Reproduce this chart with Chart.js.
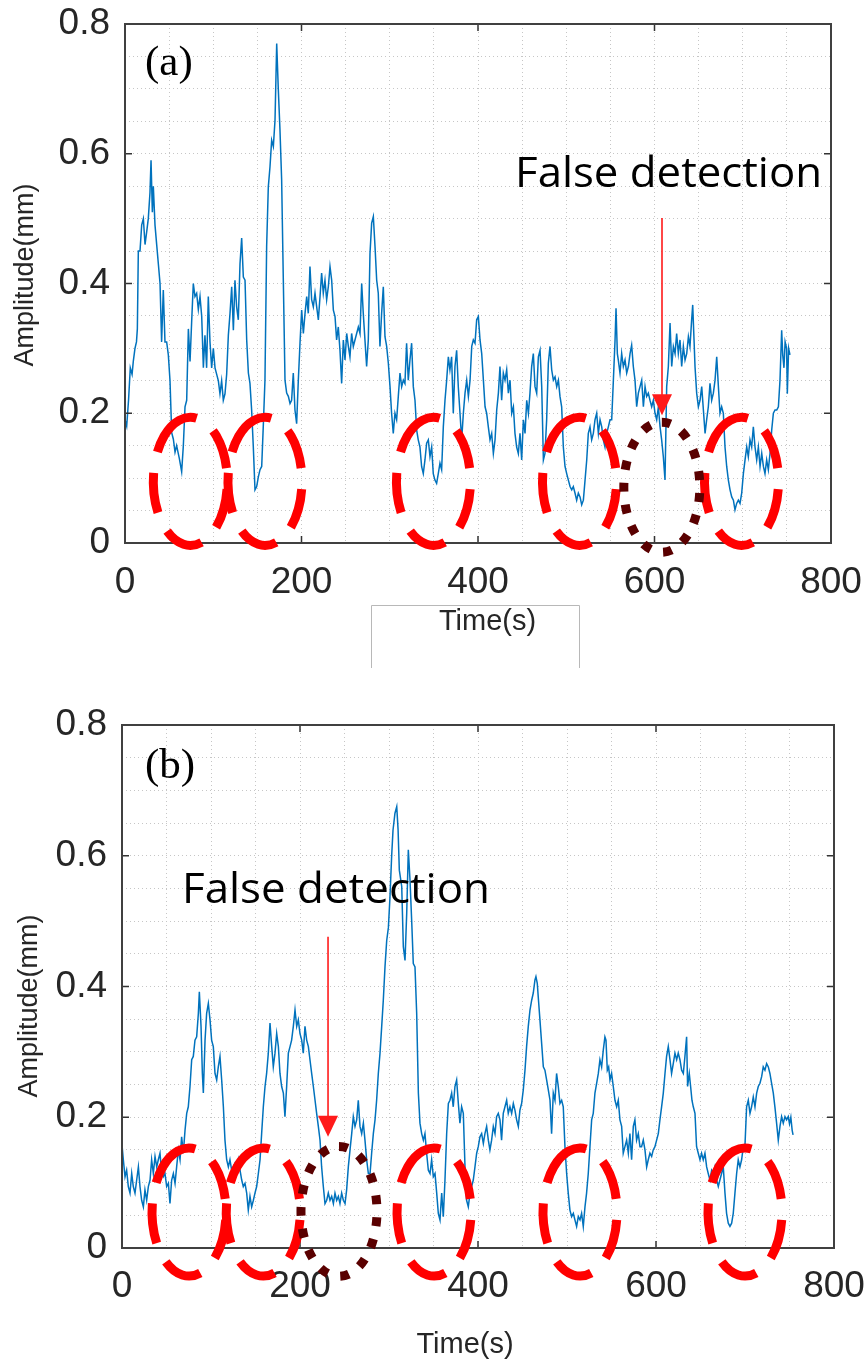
<!DOCTYPE html>
<html>
<head>
<meta charset="utf-8">
<title>Amplitude traces</title>
<script src="https://cdn.jsdelivr.net/npm/chart.js@4.4.1/dist/chart.umd.min.js"></script>
<style>
  html, body { margin: 0; padding: 0; background: #fff; }
  #wrap { position: relative; width: 865px; height: 1363px; }
  #wrap canvas { position: absolute; left: 0; }
</style>
</head>
<body>
<div id="wrap">
  <canvas id="chartA" width="865" height="680" style="top:0"></canvas>
  <canvas id="chartB" width="865" height="683" style="top:680px"></canvas>
</div>
<script>
/* two amplitude traces, (a) and (b), with the marked troughs */

const xMajor = [0, 200, 400, 600, 800];
const xTickLabels = ['0', '200', '400', '600', '800'];
const yMajor = [0, 0.2, 0.4, 0.6, 0.8];
const yTickLabels = ['0', '0.2', '0.4', '0.6', '0.8'];
const xMinorStep = 50;
const yMinorStep = 0.05;

// panel (a): time (s) and amplitude (mm)
const timeA = [
  0, 1.9, 4, 6, 8, 9.4, 11.3, 13, 14, 15.1,
  17, 18.9, 20.8, 22.7, 24.6, 26.4, 28.3, 29.5, 31, 32.1,
  34, 35.9, 37.8, 39.7, 41.5, 43.4, 45.3, 47.2, 49.1, 51,
  52.9, 54.8, 56.7, 58.5, 61.6, 64.2, 66.1, 68, 69.9, 71.8,
  73.7, 75.5, 77.4, 79.3, 81.2, 83.1, 85, 86.9, 88.8, 90.6,
  92.5, 94.4, 96.3, 98.2, 100.1, 102, 103.9, 105.8, 107.6, 109.5,
  111.4, 113.3, 115.2, 117.1, 119, 120.9, 122.8, 124.6, 126.5, 128.4,
  130.3, 132.2, 134.1, 136, 137.9, 139.8, 141.6, 143.5, 145.4, 147.3,
  149.2, 151.1, 153, 154.9, 156.8, 158.6, 160.5, 162.4, 164.3, 166.2,
  168.1, 170, 171.9, 173.7, 175.6, 177.5, 179.4, 181.3, 183.2, 185.1,
  187, 188.8, 190.7, 192.6, 194.5, 196.4, 198.3, 200.2, 202.1, 204,
  205.9, 207.7, 209.6, 211.5, 213.4, 215.3, 217.2, 219.1, 221, 222.8,
  224.7, 226.6, 228.5, 230.4, 232.3, 234.2, 236.1, 238, 239.8, 241.7,
  243.6, 245.5, 247.4, 249.3, 251.2, 253.1, 254.9, 256.8, 258.7, 260.6,
  262.5, 264.4, 266.3, 268.2, 270, 271.9, 273.8, 275.7, 277.6, 279.5,
  281.4, 283.3, 285.2, 287, 288.9, 290.8, 292.7, 294.6, 296.5, 298.4,
  300.3, 302.1, 304, 305.9, 307.8, 309.7, 311.6, 313.5, 315.4, 317.2,
  319.1, 321, 322.9, 324.8, 326.7, 328.6, 330.5, 332.3, 334.2, 336.1,
  338, 339.9, 341.8, 343.7, 345.6, 347.5, 349.3, 351.2, 353.1, 355,
  356.9, 358.8, 360.7, 362.6, 364.5, 366.4, 368.2, 370.1, 372, 373.9,
  375.8, 377.7, 379.6, 381.5, 383.4, 385.3, 387.2, 389.1, 391, 392.9,
  394.7, 396.6, 398.5, 400.4, 402.3, 404.2, 406.1, 408, 409.8, 411.7,
  413.6, 415.5, 417.4, 419.3, 421.2, 423.1, 424.9, 426.8, 428.7, 430.6,
  432.5, 434.4, 436.3, 438.2, 440.1, 441.9, 443.8, 445.7, 447.6, 449.5,
  451.4, 453.3, 455.2, 457.1, 458.9, 460.8, 462.7, 464.6, 466.5, 468.4,
  470.3, 472.2, 474.1, 475.9, 477.8, 479.7, 481.6, 483.5, 485.4, 487.3,
  489.2, 491.1, 492.9, 494.8, 496.7, 498.6, 500.5, 502.4, 504.3, 506.2,
  508, 509.9, 511.8, 513.7, 515.6, 517.5, 519.4, 521.3, 523.2, 525,
  526.9, 528.8, 530.7, 532.6, 534.5, 536.4, 538.3, 540.2, 542, 543.9,
  545.8, 547.7, 549.6, 551.5, 553.4, 555.3, 556.4, 557.9, 559, 560.9,
  562.8, 564.7, 566.6, 568.5, 570.4, 572.3, 574.1, 576, 577.9, 579.8,
  581.7, 583.6, 585.5, 587.4, 589.3, 591.1, 593, 594.9, 596.8, 598.7,
  600.6, 602.5, 604.4, 606.3, 608.1, 610, 611.9, 613.8, 615.7, 617.6,
  619.5, 621.4, 623.3, 625.1, 627, 628.9, 630.8, 632.7, 634.6, 636.5,
  638.4, 640.2, 642.1, 643.3, 644.8, 645.9, 647.8, 649.7, 651.6, 653.5,
  655.4, 657.3, 659.1, 661, 662.9, 664.8, 666.7, 668.6, 670.5, 672.4,
  674.2, 676.1, 678, 679.9, 681.8, 683.7, 685.6, 687.5, 689.4, 691.2,
  693.1, 695, 696.9, 698.8, 700.7, 702.6, 704.5, 706.3, 708.2, 710.1,
  712, 713.9, 715.8, 717.7, 719.6, 721.5, 723.4, 725.2, 727.1, 729,
  730.9, 732.8, 734.7, 736.6, 738.5, 740.4, 742.2, 744.1, 745.3, 746.7,
  748, 749.7, 750.5, 752, 753.5
];
const ampA = [
  .19, .18, .22, .27, .26, .28, .30, .31, .33, .45,
  .45, .49, .50, .46, .48, .50, .54, .59, .51, .55,
  .49, .46, .43, .40, .31, .39, .31, .31, .29, .25,
  .17, .16, .14, .15, .13, .11, .15, .21, .22, .33,
  .28, .34, .40, .38, .385, .36, .38, .35, .27, .32,
  .27, .38, .31, .27, .30, .27, .26, .25, .23, .25,
  .22, .23, .26, .32, .354, .395, .328, .405, .364, .344,
  .43, .47, .41, .405, .313, .262, .246, .205, .148, .082,
  .087, .102, .113, .118, .184, .251, .457, .549, .58, .621,
  .611, .652, .77, .70, .637, .56, .405, .251, .231, .226,
  .215, .22, .262, .205, .184, .251, .308, .359, .323, .354,
  .38, .354, .426, .375, .364, .385, .364, .344, .38, .416,
  .385, .405, .375, .395, .426, .405, .359, .349, .313, .333,
  .297, .246, .313, .282, .323, .303, .287, .323, .303, .313,
  .323, .333, .323, .40, .354, .313, .272, .313, .446, .493,
  .503, .457, .405, .385, .303, .354, .395, .318, .303, .277,
  .241, .20, .169, .20, .19, .226, .262, .241, .251, .246,
  .308, .251, .282, .308, .241, .22, .174, .159, .148, .118,
  .107, .128, .154, .159, .133, .148, .107, .097, .092, .107,
  .123, .113, .179, .22, .251, .287, .267, .287, .20, .272,
  .297, .24, .20, .159, .20, .231, .251, .226, .251, .303,
  .313, .308, .344, .349, .313, .292, .251, .21, .20, .179,
  .159, .169, .138, .159, .205, .231, .272, .22, .262, .251,
  .267, .231, .251, .20, .21, .169, .148, .138, .169, .128,
  .19, .169, .22, .20, .231, .272, .292, .241, .231, .287,
  .297, .241, .128, .138, .19, .277, .303, .267, .251, .256,
  .241, .251, .226, .21, .148, .118, .107, .097, .087, .082,
  .087, .077, .066, .077, .071, .059, .066, .097, .128, .169,
  .179, .159, .169, .19, .20, .169, .19, .179, .159, .148,
  .169, .179, .19, .19, .251, .313, .362, .292, .282, .262,
  .292, .272, .282, .262, .272, .292, .305, .272, .251, .21,
  .231, .241, .251, .21, .241, .226, .231, .22, .21, .22,
  .20, .19, .21, .179, .159, .133, .097, .241, .272, .339,
  .272, .303, .292, .323, .292, .313, .272, .303, .282, .292,
  .318, .303, .344, .367, .313, .272, .231, .21, .22, .241,
  .205, .169, .19, .21, .246, .22, .231, .251, .287, .241,
  .20, .21, .20, .148, .118, .097, .082, .071, .066, .051,
  .061, .066, .061, .077, .107, .128, .148, .133, .159, .148,
  .179, .148, .128, .148, .118, .138, .118, .107, .128, .113,
  .138, .174, .20, .205, .205, .21, .251, .328, .29, .27,
  .31, .30, .23, .30, .29
];

// panel (b)
const timeB = [
  0, 1.5, 3.4, 5.2, 7.1, 9, 10.9, 12.7, 14.6, 16.5,
  18.4, 20.2, 22.1, 24, 25.8, 27.7, 29.6, 31.5, 33.3, 35.2,
  37.1, 39, 40.8, 42.7, 44.6, 46.4, 48.3, 50.2, 52.1, 53.9,
  55.8, 57.7, 59.6, 61.4, 63.3, 65.2, 67, 68.9, 70.8, 72.7,
  74.5, 76.4, 78.3, 80.1, 82, 83.9, 85.8, 86.9, 88.8, 90.3,
  91.4, 93.3, 95.1, 97, 98.9, 100.7, 102.6, 104.5, 106.4, 108.2,
  110.1, 112, 113.9, 115.7, 117.6, 119.5, 121.3, 123.2, 125.1, 127,
  128.8, 130.7, 132.6, 134.5, 136.3, 138.2, 140.1, 141.9, 143.8, 145.7,
  147.6, 149.4, 151.3, 153.2, 155.1, 156.9, 158.8, 160.7, 162.5, 164.4,
  166.3, 168.2, 170, 171.9, 173.8, 175.7, 177.5, 179.4, 181.3, 183.1,
  185, 186.9, 188.8, 190.6, 192.5, 194.4, 196.3, 198.1, 200, 201.9,
  203.7, 205.6, 207.5, 209.4, 211.2, 213.1, 215, 216.9, 218.7, 220.6,
  222.5, 224.3, 226.2, 228.1, 230, 231.8, 233.7, 235.6, 237.5, 239.3,
  241.2, 243.1, 244.9, 246.8, 248.7, 250.6, 252.4, 254.3, 256.2, 258.1,
  259.9, 261.8, 263.7, 265.5, 267.4, 269.3, 271.2, 273, 274.9, 276.8,
  278.7, 280.5, 282.4, 284.3, 286.1, 288, 289.9, 291.8, 293.6, 295.5,
  297.4, 299.3, 301.1, 303, 304.5, 306.7, 308.7, 310.2, 311.6, 314.3,
  316.1, 318, 319.9, 321.7, 323.6, 325.5, 327.3, 329.2, 331.1, 333,
  334.8, 336.7, 338.6, 340.4, 342.3, 344.2, 346.1, 347.9, 349.8, 351.7,
  353.6, 355.4, 357.3, 359.2, 361, 362.9, 364.8, 366.7, 368.5, 370.4,
  372.2, 374.1, 376, 377.9, 379.7, 381.6, 383.5, 385.4, 387.2, 389.1,
  391, 392.8, 394.7, 396.6, 398.5, 400.3, 402.2, 404.1, 406, 407.8,
  409.7, 411.6, 413.4, 415.3, 417.2, 419.1, 420.9, 422.8, 424.7, 426.5,
  428.4, 430.3, 432.2, 434, 435.9, 437.8, 439.7, 441.5, 443.4, 445.3,
  447.1, 449, 450.9, 452.8, 454.6, 456.5, 458.4, 460.3, 462.1, 464,
  465.1, 466.6, 467.7, 469.6, 471.5, 473.4, 475.2, 477.1, 479, 480.9,
  482.7, 484.6, 486.5, 488.3, 490.2, 492.1, 494, 495.8, 497.7, 499.6,
  501.4, 503.3, 505.2, 507.1, 508.9, 510.8, 512.7, 514.6, 516.4, 518.3,
  520.2, 522, 523.9, 525.8, 527.7, 529.5, 531.4, 533.3, 535.2, 537,
  538.9, 540.8, 542.6, 543.8, 545.3, 546.8, 548.3, 550.1, 552, 553.9,
  555.8, 557.6, 559.5, 561.4, 563.2, 565.1, 567, 568.9, 570.7, 572.6,
  574.5, 576.3, 578.2, 580.1, 582, 583.8, 585.7, 587.6, 589.5, 591.3,
  593.2, 595.1, 596.9, 598.8, 600.7, 602.6, 604.4, 606.3, 608.2, 610.1,
  611.9, 613.8, 615.7, 617.5, 619.4, 621.3, 623.2, 625, 626.9, 628.8,
  630.7, 632.5, 634.4, 635.5, 637.4, 638.9, 640.4, 641.9, 643.8, 645.6,
  647.5, 649.4, 651.2, 653.1, 655, 656.9, 658.7, 660.6, 662.5, 664.4,
  666.2, 668.1, 670, 671.8, 673.7, 675.6, 677.5, 679.3, 681.2, 683.1,
  685, 686.8, 688.7, 690.6, 692.4, 694.3, 696.2, 698.1, 699.9, 701.8,
  703.7, 705.6, 707.4, 709.3, 711.2, 713.1, 714.9, 716.8, 718.7, 720.5,
  722.4, 724.3, 726.2, 728, 729.9, 731.8, 733.6, 735.5, 737.4, 739.3,
  741.1, 743, 744.9, 746.7, 748.6, 750, 751.5, 753, 754
];
const ampB = [
  .158, .135, .109, .119, .094, .084, .114, .094, .084, .104,
  .124, .094, .073, .063, .089, .073, .094, .104, .135, .114,
  .140, .124, .135, .145, .114, .109, .114, .094, .099, .068,
  .104, .114, .099, .124, .150, .135, .170, .145, .180, .206,
  .216, .247, .288, .293, .318, .323, .359, .392, .339, .267,
  .237, .318, .359, .374, .349, .318, .308, .267, .257, .277,
  .293, .257, .216, .165, .135, .124, .135, .119, .124, .130,
  .119, .135, .119, .104, .094, .099, .084, .058, .079, .063,
  .073, .084, .094, .114, .135, .175, .216, .247, .267, .298,
  .344, .308, .277, .298, .328, .308, .267, .247, .237, .201,
  .247, .298, .308, .318, .339, .364, .339, .349, .328, .318,
  .298, .339, .318, .308, .288, .267, .247, .226, .206, .186,
  .165, .124, .094, .068, .073, .084, .073, .079, .068, .084,
  .073, .079, .068, .084, .073, .068, .089, .124, .150, .175,
  .201, .186, .196, .226, .186, .175, .191, .165, .135, .114,
  .114, .145, .175, .196, .226, .267, .298, .339, .379, .430,
  .47, .49, .537, .60, .639, .665, .675, .64, .578, .553,
  .461, .44, .512, .609, .563, .50, .435, .43, .359, .237,
  .191, .175, .165, .175, .145, .119, .114, .135, .109, .114,
  .084, .053, .043, .084, .048, .104, .175, .221, .226, .237,
  .216, .247, .257, .221, .191, .216, .206, .124, .073, .063,
  .084, .094, .104, .124, .145, .155, .170, .175, .160, .175,
  .186, .165, .150, .165, .186, .175, .201, .206, .196, .165,
  .206, .216, .226, .206, .216, .206, .221, .211, .196, .186,
  .211, .221, .242, .272, .308, .339, .364, .379, .390, .410,
  .415, .405, .384, .349, .313, .277, .272, .257, .242, .226,
  .175, .237, .226, .267, .247, .221, .226, .216, .155, .114,
  .084, .058, .048, .053, .043, .033, .048, .043, .053, .033,
  .063, .084, .114, .155, .196, .206, .237, .252, .267, .288,
  .277, .303, .323, .318, .272, .277, .257, .267, .247, .226,
  .216, .226, .196, .186, .145, .155, .165, .145, .175, .135,
  .186, .196, .165, .175, .155, .155, .165, .150, .124, .135,
  .145, .140, .150, .155, .165, .175, .196, .216, .237, .267,
  .293, .308, .288, .267, .282, .298, .288, .298, .288, .272,
  .267, .293, .323, .247, .267, .247, .226, .216, .206, .155,
  .145, .135, .145, .135, .145, .124, .114, .104, .119, .114,
  .124, .104, .094, .104, .114, .124, .084, .053, .038, .033,
  .038, .053, .084, .114, .135, .124, .135, .155, .155, .216,
  .226, .206, .216, .231, .216, .237, .247, .252, .262, .277,
  .272, .282, .277, .267, .252, .237, .216, .191, .165, .186,
  .201, .191, .201, .196, .201, .19, .20, .18, .173
];

// marked troughs (red dashed) and false detections (dotted), axis units
const troughTimesA = [74, 158.6, 349.5, 515, 698.6];
const troughTimesB = [75.3, 158.7, 350.6, 514.6, 700];
const troughLevelA = 0.095;
const troughLevelB = 0.055;
const falseHitA = [608.3, 0.086];
const falseHitB = [243.8, 0.056];
const arrowA = [608.5, 0.501, 0.197];
const arrowB = [231.5, 0.476, 0.17];
const noteText = 'False detection';

function pickLabel(majors, labels, v) {
    const i = majors.findIndex(m => Math.abs(m - v) < 1e-6);
    return i >= 0 ? labels[i] : '';
}

function decor(p) {
    return {
        id: 'decor',
        afterDraw(chart) {
            const { ctx, chartArea: a, scales: { x, y } } = chart;
            const X = v => x.getPixelForValue(v);
            const Y = v => y.getPixelForValue(v);
            ctx.save();

            // inward major ticks on all sides, then the box
            ctx.strokeStyle = '#333';
            ctx.lineWidth = 1.5;
            ctx.beginPath();
            xMajor.forEach(v => {
                const px = X(v);
                ctx.moveTo(px, a.bottom); ctx.lineTo(px, a.bottom - 7);
                ctx.moveTo(px, a.top); ctx.lineTo(px, a.top + 7);
            });
            yMajor.forEach(v => {
                const py = Y(v);
                ctx.moveTo(a.left, py); ctx.lineTo(a.left + 7, py);
                ctx.moveTo(a.right, py); ctx.lineTo(a.right - 7, py);
            });
            ctx.stroke();
            ctx.strokeStyle = '#404040';
            ctx.lineWidth = 2;
            ctx.strokeRect(a.left, a.top, a.width, a.height);

            // axis titles
            ctx.fillStyle = '#262626';
            ctx.font = '29px "Liberation Sans"';
            ctx.textAlign = 'center';
            ctx.textBaseline = 'alphabetic';
            ctx.fillText('Time(s)', p.xTitleAt[0], p.xTitleAt[1]);
            ctx.save();
            ctx.translate(p.yTitleAt[0], p.yTitleAt[1]);
            ctx.rotate(-Math.PI / 2);
            ctx.font = '27px "Liberation Sans"';
            ctx.textBaseline = 'middle';
            ctx.fillText('Amplitude(mm)', 0, 0);
            ctx.restore();

            if (p.titleBox) {
                const [l, t, r, b] = p.titleBox;
                ctx.strokeStyle = '#b8b8b8';
                ctx.lineWidth = 1;
                ctx.beginPath();
                ctx.moveTo(l, b); ctx.lineTo(l, t); ctx.lineTo(r, t); ctx.lineTo(r, b);
                ctx.stroke();
            }

            // panel letter
            ctx.fillStyle = '#000';
            ctx.textAlign = 'left';
            ctx.textBaseline = 'alphabetic';
            ctx.font = '43px "Liberation Serif"';
            ctx.fillText(p.letter, X(p.letterAt[0]), Y(p.letterAt[1]));

            // red dashed rings round the troughs
            ctx.strokeStyle = '#ff0000';
            ctx.lineWidth = 9;
            ctx.lineCap = 'butt';
            ctx.setLineDash([40, 21]);
            p.troughs.forEach(t => {
                ctx.beginPath();
                ctx.ellipse(X(t), Y(p.troughLevel), 37, 64, 0, -0.75 * Math.PI, 1.25 * Math.PI);
                ctx.stroke();
            });

            // dotted ring on the false detection
            ctx.strokeStyle = '#5a0000';
            ctx.lineWidth = 9;
            ctx.setLineDash([9, 13]);
            ctx.beginPath();
            ctx.ellipse(X(p.falseHit[0]), Y(p.falseHit[1]), 38, 65, 0, -0.5 * Math.PI, 1.5 * Math.PI);
            ctx.stroke();
            ctx.setLineDash([]);

            // arrow
            const ax = X(p.arrow[0]);
            const tip = Y(p.arrow[2]);
            ctx.strokeStyle = '#ff1a1a';
            ctx.fillStyle = '#ff1a1a';
            ctx.lineWidth = 1.6;
            ctx.beginPath();
            ctx.moveTo(ax, Y(p.arrow[1]));
            ctx.lineTo(ax, tip - 20);
            ctx.stroke();
            ctx.beginPath();
            ctx.moveTo(ax - 10, tip - 21);
            ctx.lineTo(ax + 10, tip - 21);
            ctx.lineTo(ax, tip);
            ctx.closePath();
            ctx.fill();

            // note
            ctx.fillStyle = '#000';
            ctx.font = '42px "Open Sans"';
            const w = ctx.measureText(noteText).width;
            ctx.translate(X(p.noteAt[0]), Y(p.noteAt[1]));
            ctx.scale(p.noteWidth / w, 1);
            ctx.fillText(noteText, 0, 0);

            ctx.restore();
        }
    };
}

function makePanel(p) {
    const data = p.time.map((t, i) => ({ x: t, y: p.amp[i] }));
    const grid = { color: '#c6c6c6', lineWidth: 1, drawTicks: false };
    const border = { display: false, dash: [1, 3] };
    const tickFont = { family: 'Liberation Sans', size: 37 };
    new Chart(document.getElementById(p.canvas), {
        type: 'line',
        data: {
            datasets: [{
                data: data,
                borderColor: 'rgb(0,114,189)',
                borderWidth: 1.5,
                pointRadius: 0,
                tension: 0,
                fill: false
            }]
        },
        options: {
            responsive: false,
            animation: false,
            events: [],
            layout: { padding: p.pad },
            plugins: { legend: { display: false }, tooltip: { enabled: false } },
            scales: {
                x: {
                    type: 'linear', min: 0, max: 800,
                    afterFit: s => { s.height = 80; s.paddingLeft = 0; s.paddingRight = 0; },
                    grid: grid, border: border,
                    ticks: {
                        stepSize: xMinorStep, autoSkip: false, maxRotation: 0,
                        padding: p.xTickPad, color: '#262626', font: tickFont,
                        callback: v => pickLabel(xMajor, xTickLabels, v)
                    }
                },
                y: {
                    min: 0, max: 0.8,
                    afterFit: s => { s.width = p.yWidth; s.paddingTop = 0; s.paddingBottom = 0; },
                    grid: grid, border: border,
                    ticks: {
                        stepSize: yMinorStep, autoSkip: false,
                        padding: 15, color: '#262626', font: tickFont,
                        callback: v => pickLabel(yMajor, yTickLabels, v)
                    }
                }
            }
        },
        plugins: [decor(p)]
    });
}

makePanel({
    canvas: 'chartA', time: timeA, amp: ampA, letter: '(a)',
    pad: { top: 24, right: 34, bottom: 57, left: 0 }, yWidth: 125, xTickPad: 18,
    troughs: troughTimesA, troughLevel: troughLevelA, falseHit: falseHitA, arrow: arrowA,
    letterAt: [22.7, 0.721], noteAt: [442, 0.549], noteWidth: 307,
    xTitleAt: [487.5, 630], yTitleAt: [26, 275], titleBox: [371.5, 605.5, 579.5, 668]
});

makePanel({
    canvas: 'chartB', time: timeB, amp: ampB, letter: '(b)',
    pad: { top: 45, right: 31, bottom: 35, left: 0 }, yWidth: 122, xTickPad: 17,
    troughs: troughTimesB, troughLevel: troughLevelB, falseHit: falseHitB, arrow: arrowB,
    letterAt: [25.8, 0.719], noteAt: [67.4, 0.528], noteWidth: 308,
    xTitleAt: [465, 673], yTitleAt: [30, 326], titleBox: null
});
</script>
</body>
</html>
